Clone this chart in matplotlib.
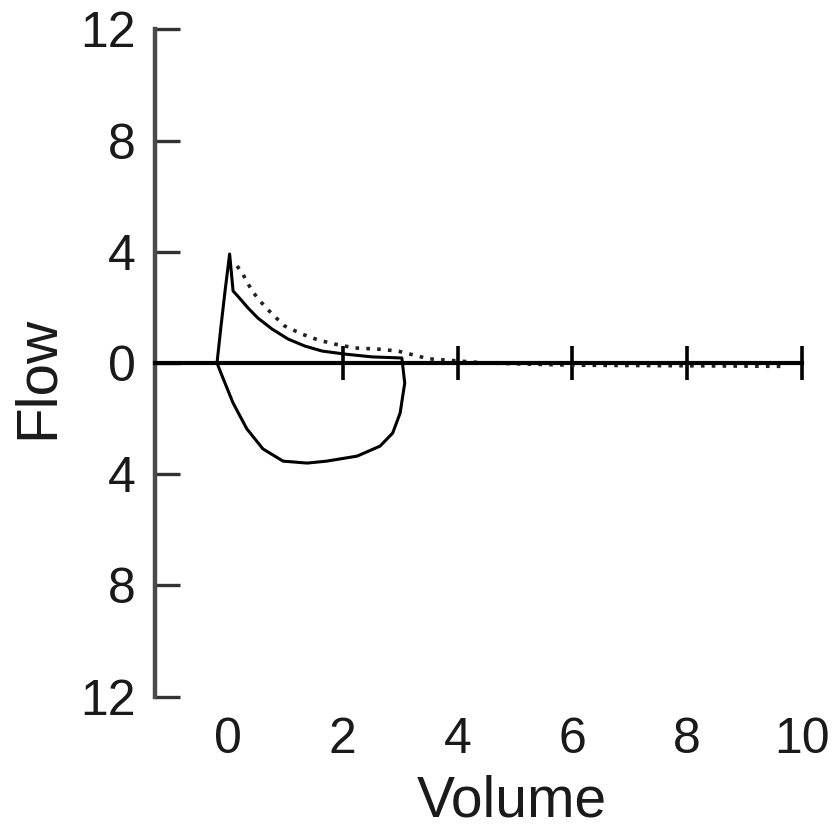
import matplotlib.pyplot as plt
from matplotlib.ticker import FuncFormatter

plt.rcParams['font.family'] = ['Liberation Sans', 'DejaVu Sans']

# Петля поток-объём: вдох (над осью) и выдох (под осью), одной линией
loop_volume = [-0.19, -0.12, -0.05, 0.03, 0.09, 0.17, 0.35, 0.52, 0.77, 1.05, 1.34, 1.64,
               2.04, 2.51, 3.03,
               3.08, 3.0, 2.87, 2.65, 2.25, 1.72, 1.38, 0.96, 0.61, 0.33, 0.09, -0.10, -0.19]
loop_flow = [0.0, 1.33, 2.59, 3.92, 2.59, 2.41, 1.98, 1.62, 1.22, 0.86, 0.61, 0.43,
             0.32, 0.22, 0.18,
             -0.72, -1.8, -2.52, -2.99, -3.35, -3.53, -3.6, -3.53, -3.09, -2.37, -1.44, -0.47, 0.0]

# Вторая кривая (пунктир)
dot_volume = [0.16, 0.26, 0.42, 0.59, 0.77, 0.99, 1.29, 1.57, 1.86, 2.21, 2.61, 2.96,
              3.5, 4.5, 6.0, 8.0, 9.7]
dot_flow = [3.49, 3.2, 2.59, 2.16, 1.76, 1.33, 1.04, 0.83, 0.68, 0.54, 0.5, 0.43,
            0.15, 0.0, -0.08, -0.1, -0.12]

x_ticks = [2, 4, 6, 8, 10]
x_labels = [0, 2, 4, 6, 8, 10]
y_ticks = [-12, -8, -4, 0, 4, 8, 12]

fig = plt.figure(figsize=(8.32, 8.30), dpi=100)
ax = fig.add_axes([155 / 832, 133.4 / 830, 647 / 832, 667.2 / 830])
ax.set_xlim(-1.27, 10.0)
ax.set_ylim(-12, 12)

ax.plot(loop_volume, loop_flow, color='black', lw=2.2,
        solid_joinstyle='round', solid_capstyle='round')
ax.plot(dot_volume, dot_flow, color='#222222', lw=2.6, linestyle=(0, (1, 2)))

# Ось объёма проходит через ноль потока
ax.spines['top'].set_visible(False)
ax.spines['right'].set_visible(False)
ax.spines['bottom'].set_position(('data', 0))
ax.spines['bottom'].set_bounds(-1.27, 10.0)
ax.spines['bottom'].set_linewidth(3.0)
ax.spines['left'].set_bounds(-12, 12)
ax.spines['left'].set_linewidth(3.2)
ax.spines['left'].set_color('#4a4a4a')

ax.set_xticks(x_ticks)
ax.tick_params(axis='x', direction='inout', length=24, width=2.6, labelbottom=False)

ax.set_yticks(y_ticks)
ax.yaxis.set_major_formatter(FuncFormatter(lambda v, p: f'{abs(v):g}'))
ax.tick_params(axis='y', direction='in', length=18, width=2.4, pad=14,
               labelsize=36, labelcolor='#1a1a1a', color='#333333')

# Подписи объёма внизу графика
sec = ax.secondary_xaxis(0)
sec.set_xticks(x_labels)
sec.spines['bottom'].set_visible(False)
sec.tick_params(length=0, pad=15, labelsize=36, labelcolor='#1a1a1a')

fig.text(38 / 832, 1 - 377 / 830, 'Flow', rotation=90, fontsize=42,
         ha='center', va='center', color='#1a1a1a')
fig.text(512 / 832, 1 - 816 / 830, 'Volume', fontsize=41,
         ha='center', va='baseline', color='#1a1a1a')

fig.savefig('out.png', dpi=100)
